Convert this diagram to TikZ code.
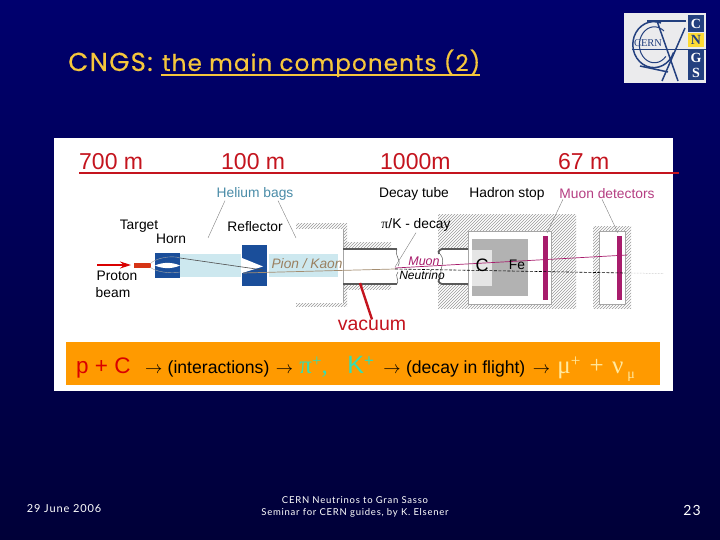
\documentclass[tikz,border=0pt]{standalone}
\usepackage{fontspec}
\usepackage{tikz}
\usetikzlibrary{arrows.meta, patterns, positioning}
\setmainfont{Liberation Sans}
\newfontfamily\titlefont[LetterSpace=5,FakeBold=0.4]{Poppins}
\newfontfamily\footfont[LetterSpace=8]{Lato}
\newfontfamily\symbfont{Liberation Serif}
\definecolor{slidetop}{HTML}{00006E}
\definecolor{slidebottom}{HTML}{000038}
\definecolor{titleyellow}{HTML}{F5C63C}
\definecolor{linered}{HTML}{C4141E}
\definecolor{barorange}{HTML}{FF9A00}
\definecolor{magnetblue}{HTML}{1A4E9A}
\definecolor{bagblue}{HTML}{CDE8EF}
\definecolor{heliumteal}{HTML}{4A8CA8}
\definecolor{muonpurple}{HTML}{A81C6C}
\definecolor{pionbrown}{HTML}{9A8060}
\definecolor{logoblue}{HTML}{23407F}
\definecolor{mesongreen}{HTML}{38DCB0}
\definecolor{leptonyellow}{HTML}{FFE9A0}

\begin{document}
\begin{tikzpicture}[
        x=1pt, y=-1pt,
        slidetitle/.style={inner sep=0pt, text=titleyellow, font=\titlefont\fontsize{23}{23}\selectfont},
        foot/.style={inner sep=0pt, text=white, align=center, font=\footfont\fontsize{9.5}{12}\selectfont},
        dist/.style={inner sep=0pt, anchor=base west, text=linered, font=\fontsize{23}{23}\selectfont},
        lbl/.style={inner sep=0pt, font=\fontsize{13.8}{14}\selectfont},
        eqn/.style={inner sep=0pt, font=\fontsize{17.6}{18}\selectfont},
        eqsym/.style={inner sep=0pt, font=\symbfont\fontsize{25}{25}\selectfont},
        leader/.style={draw=gray, line width=0.4pt},
        hatch/.style={pattern=north east lines, pattern color=gray!80},
        wall/.style={draw=gray!70!black, line width=1.8pt},
        detbar/.style={fill=muonpurple},
        magnet/.style={fill=magnetblue},
        bag/.style={fill=bagblue},
        logobox/.style={fill=logoblue, text=white, inner sep=0pt, font=\symbfont\bfseries\fontsize{14}{14}\selectfont},
        ring/.style={draw=logoblue, line width=1.5pt}
    ]
        \useasboundingbox (0,0) rectangle (720,540);
        \shade[top color=slidetop, bottom color=slidebottom] (0,0) rectangle (720,540);

        % Title
        \node (cngs) [slidetitle, font=\titlefont\fontsize{26}{26}\selectfont, anchor=base west] at (68,71) {CNGS:};
        \node (maintitle) [slidetitle, anchor=base west] at (162,71) {the main components (2)};
        \coordinate (ulstart) at (161,75);
        \coordinate (ulend) at (480,75);
        \draw[titleyellow, line width=1.2pt] (ulstart) -- (ulend);

        % Logo
        \fill[blue!6!gray!15] (624,13) rectangle (706,83);
        \draw[ring] (661,23) arc (-70:-340:21 and 23);
        \draw[ring, line width=1pt] (664,31) arc (-50:-320:15 and 18);
        \draw[ring] (647,21) -- (686,21);
        \draw[ring] (685,28) -- (662,81);
        \draw[ring] (657,21) -- (678,81);
        \draw[ring] (640,66) -- (668,72);
        \node (logoc) [logobox, minimum width=16pt, minimum height=17pt] at (696,23.5) {C};
        \node (logon) [logobox, fill=yellow!70!orange!80, text=logoblue, minimum width=16pt, minimum height=14pt] at (696,40) {N};
        \node (logogs) [logobox, minimum width=16pt, minimum height=31pt, align=center] at (696,65) {G\\[1pt]S};
        \draw[logoblue, line width=0.8pt] (632,49) -- (706,49);
        \node (cernlogo) [inner sep=0pt, text=logoblue, font=\symbfont\fontsize{10.5}{11}\selectfont] at (648,43) {CERN};

        % White panel and distances
        \fill[white] (54,138) rectangle (673,391);
        \node (d700) [dist] at (79,170) {700 m};
        \node (d100) [dist] at (221,170) {100 m};
        \node (d1000) [dist] at (380,170) {1000m};
        \node (d67) [dist] at (558,170) {67 m};

        % Shielding
        \fill[hatch] (296,224) rectangle (347,229);
        \fill[hatch] (296,303) rectangle (347,306);
        \fill[hatch] (343,229) rectangle (347,303);
        \fill[hatch] (343,242) rectangle (391,289);
        \fill[white] (343,250) rectangle (397,283);
        \draw[gray!70, line width=0.5pt] (343,229) -- (343,303);
        \fill[hatch] (438,215) rectangle (576,308);
        \fill[white] (468,231) rectangle (551,304);
        \draw[gray!70, line width=0.6pt] (468,231) rectangle (551,304);
        \fill[white] (438,250) rectangle (468,283);
        \fill[hatch] (593,227) rectangle (631,308);
        \fill[white] (599,231) rectangle (625,304);
        \draw[gray!70, line width=0.6pt] (599,231) rectangle (625,304);

        % Tube walls
        \draw[wall] (343,249) -- (397,249);
        \draw[wall] (343,284) -- (397,284);
        \draw[wall] (468,249) -- (442,249) .. controls (438,250) and (438,253) .. (439,254);
        \draw[wall] (468,284) -- (442,284) .. controls (438,283) and (438,280) .. (439,279);
        \draw[gray!70!black, line width=0.5pt] (397,249) .. controls (394,256) and (402,260) .. (398,266);
        \draw[gray!70!black, line width=0.5pt] (398,272) .. controls (394,276) and (400,280) .. (397,284);
        \draw[gray!70!black, line width=0.5pt] (440,254) .. controls (445,260) and (442,264) .. (441,270) .. controls (440,274) and (442,277) .. (439,279);

        % Target, horn, reflector
        \fill[bag] (180,254) rectangle (241,277);
        \fill[bag] (269,254) rectangle (338,277);
        \fill[linered!70!orange] (134,263) rectangle (151,268);
        \fill[magnet] (155,253) rectangle (180,278);
        \fill[white] (155,265.5) .. controls (163,262) and (172,262) .. (180,265.5) .. controls (172,269) and (163,269) .. (155,265.5);
        \draw[gray!70, line width=0.4pt] (150,264) .. controls (155,258) and (172,255) .. (180,258);
        \draw[gray!70, line width=0.4pt] (150,267) .. controls (155,272) and (172,274) .. (180,272);
        \fill[magnet] (242,245) rectangle (267,286);
        \fill[white] (242,258) -- (263,266.5) -- (242,273) -- cycle;

        % Hadron stop
        \fill[gray!60] (472,239) rectangle (528,296);
        \fill[gray!20] (472,250) rectangle (492,286);
        \fill[detbar] (543,236) rectangle (548,300);
        \fill[detbar] (617,236) rectangle (622,300);

        % Beam lines
        \coordinate (protonstart) at (97,265);
        \coordinate (protonend) at (131,265);
        \draw[-{Stealth[length=11pt,width=7pt]}, red!85!black, line width=1.2pt] (protonstart) -- (protonend);
        \coordinate (pionA) at (180,258);
        \coordinate (pionB) at (263,270);
        \coordinate (pionC) at (243,273);
        \coordinate (pionD) at (395,269);
        \coordinate (muonA) at (395,268);
        \coordinate (muonB) at (627,255);
        \coordinate (nuA) at (395,269);
        \coordinate (nuB) at (625,273);
        \coordinate (nuC) at (663,273.5);
        \draw[gray!60!black, line width=0.6pt] (pionA) -- (pionB);
        \draw[pionbrown!90, line width=0.7pt] (pionC) -- (pionD);
        \draw[muonpurple, line width=0.7pt] (muonA) -- (muonB);
        \draw[black, line width=0.6pt, dash pattern=on 3pt off 1.5pt] (nuA) -- (nuB);
        \draw[gray!60, densely dotted, line width=0.5pt] (nuB) -- (nuC);

        % Labels
        \node (helium) [lbl, text=heliumteal] at (255,194) {Helium bags};
        \node (target) [lbl] at (139,226) {Target};
        \node (horn) [lbl] at (171,239) {Horn};
        \node (reflector) [lbl] at (255,227) {Reflector};
        \node (proton) [lbl] at (117,276) {Proton};
        \node (beam) [lbl] at (113,293) {beam};
        \node (pionkaon) [lbl, text=pionbrown, font=\itshape\fontsize{13.7}{14}\selectfont] at (307,264) {Pion / Kaon};
        \node (decaytube) [lbl] at (414,194) {Decay tube};
        \node (hadron) [lbl] at (507,194) {Hadron stop};
        \node (muondet) [lbl, text=muonpurple!85] at (607,194) {Muon detectors};
        \node (pikdecay) [lbl] at (416,225) {{\symbfont π}/K - decay};
        \node (muon) [lbl, text=muonpurple, font=\itshape\fontsize{12.5}{13}\selectfont] at (424,261) {Muon};
        \node (neutrino) [lbl, font=\itshape\fontsize{12}{12}\selectfont] at (422,275) {Neutrino};
        \node (carbon) [lbl, font=\fontsize{18}{18}\selectfont] at (482,265) {C};
        \node (iron) [lbl] at (517,265) {Fe};

        % Leaders
        \coordinate (heliumL) at (208,238);
        \coordinate (heliumR) at (296,238);
        \coordinate (decayend) at (395,267);
        \coordinate (detA) at (547,233);
        \coordinate (detB) at (618,233);
        \draw[leader] ([xshift=-30pt]helium.south) -- (heliumL);
        \draw[leader] ([xshift=23pt]helium.south) -- (heliumR);
        \draw[leader] ([yshift=-1pt]pikdecay.south) -- (decayend);
        \draw[leader] ([xshift=-44pt]muondet.south) -- (detA);
        \draw[leader] ([xshift=-5pt]muondet.south) -- (detB);

        % Vacuum
        \node (vacuum) [inner sep=0pt, text=linered, font=\fontsize{19.5}{20}\selectfont] at (372,325) {vacuum};
        \coordinate (vacuumtip) at (360,283);
        \draw[linered, line width=2.4pt] (vacuum.north) -- (vacuumtip);

        % Distance scale
        \coordinate (scalestart) at (79,173.5);
        \coordinate (scaleend) at (679,173.5);
        \draw[linered, line width=2pt] (scalestart) -- (scaleend);

        % Orange bar with the reaction
        \fill[barorange] (66,342) rectangle (660,385);
        \node (pc) [eqn, text=red!85!black, font=\fontsize{22.5}{23}\selectfont, anchor=base west] at (76,373) {p + C};
        \node (arrA) [eqn, base right=14pt of pc] {$\rightarrow$};
        \node (inter) [eqn, base right=5pt of arrA] {(interactions)};
        \node (arrB) [eqn, base right=6pt of inter] {$\rightarrow$};
        \node (pionplus) [eqsym, text=mesongreen, base right=6pt of arrB] {π\raisebox{7pt}{\fontsize{17}{17}\selectfont +},};
        \node (kaon) [eqn, text=mesongreen, font=\fontsize{25}{25}\selectfont, base right=19pt of pionplus] {K\raisebox{7pt}{\fontsize{17}{17}\selectfont +}};
        \node (arrC) [eqn, base right=9pt of kaon] {$\rightarrow$};
        \node (decay) [eqn, base right=5pt of arrC] {(decay in flight)};
        \node (arrD) [eqn, base right=7pt of decay] {$\rightarrow$};
        \node (muplus) [eqsym, text=leptonyellow, base right=7pt of arrD] {μ\raisebox{7pt}{\fontsize{17}{17}\selectfont +}\hspace{3pt} + \hspace{2pt}ν\hspace{4pt}\raisebox{-5pt}{\fontsize{14}{14}\selectfont μ}};

        % Footer
        \node (footdate) [foot, font=\footfont\fontsize{11}{11}\selectfont] at (64,509) {29 June 2006};
        \node (footmid) [foot] at (355,507) {CERN Neutrinos to Gran Sasso\\Seminar for CERN guides, by K. Elsener};
        \node (footpage) [foot, font=\footfont\fontsize{14}{14}\selectfont] at (692,510) {23};
    \end{tikzpicture}
\end{document}
